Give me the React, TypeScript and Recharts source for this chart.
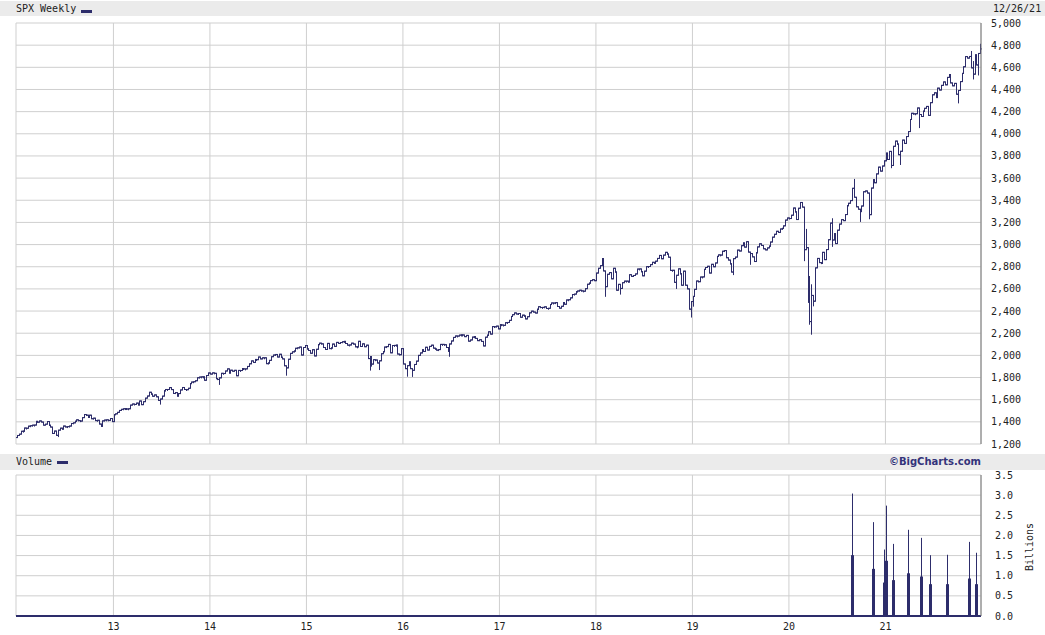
import React from "react";
import { ComposedChart, Bar, XAxis, YAxis, CartesianGrid } from "recharts";

// weekly closes of the S&P 500, 52 weeks per year
const priorClose = 1258;
const close2012 = [
  1277, 1289, 1315, 1316, 1344, 1342, 1361, 1365, 1370, 1371, 1404, 1397, 1408,
  1398, 1370, 1379, 1403, 1369, 1353, 1295, 1317, 1278, 1325, 1343, 1335, 1362,
  1354, 1357, 1362, 1385, 1391, 1405, 1418, 1411, 1407, 1438, 1466, 1460, 1441,
  1460, 1428, 1433, 1411, 1414, 1380, 1360, 1409, 1416, 1418, 1413, 1430, 1402,
];
const close2013 = [
  1466, 1472, 1486, 1503, 1513, 1518, 1520, 1516, 1518, 1551, 1561, 1557, 1569,
  1553, 1588, 1555, 1582, 1614, 1633, 1667, 1650, 1631, 1643, 1626, 1593, 1606,
  1632, 1680, 1692, 1692, 1709, 1691, 1656, 1664, 1633, 1655, 1688, 1710, 1692,
  1690, 1703, 1745, 1759, 1762, 1771, 1798, 1804, 1806, 1805, 1775, 1818, 1841,
];
const close2014 = [
  1831, 1842, 1838, 1790, 1783, 1797, 1838, 1836, 1859, 1878, 1841, 1866, 1857,
  1865, 1816, 1864, 1863, 1881, 1878, 1878, 1900, 1924, 1950, 1936, 1963, 1961,
  1985, 1968, 1978, 1978, 1925, 1931, 1955, 1988, 2003, 2008, 1985, 2010, 1983,
  1968, 1906, 1887, 1965, 2018, 2032, 2039, 2064, 2068, 2075, 2003, 2071, 2089,
];
const close2015 = [
  2058, 2044, 2019, 2051, 1995, 2055, 2097, 2110, 2104, 2071, 2053, 2108, 2061,
  2067, 2102, 2081, 2117, 2108, 2116, 2123, 2126, 2107, 2092, 2094, 2110, 2102,
  2077, 2077, 2127, 2080, 2104, 2078, 2092, 1971, 1989, 1921, 1961, 1958, 1931,
  1951, 2015, 2033, 2075, 2079, 2099, 2023, 2089, 2090, 2092, 2012, 2006, 2061,
];
const close2016 = [
  1922, 1880, 1907, 1940, 1880, 1865, 1918, 1948, 2000, 2022, 2050, 2035, 2073,
  2048, 2081, 2092, 2065, 2057, 2047, 2052, 2099, 2099, 2096, 2071, 2037, 2103,
  2130, 2162, 2175, 2174, 2183, 2184, 2184, 2169, 2180, 2128, 2139, 2165, 2168,
  2153, 2133, 2141, 2126, 2085, 2164, 2182, 2213, 2192, 2260, 2258, 2264, 2239,
];
const close2017 = [
  2277, 2274, 2271, 2295, 2297, 2316, 2351, 2367, 2383, 2373, 2378, 2344, 2363,
  2355, 2329, 2349, 2384, 2399, 2391, 2382, 2416, 2439, 2432, 2433, 2438, 2423,
  2425, 2459, 2473, 2472, 2476, 2441, 2426, 2443, 2477, 2461, 2500, 2502, 2519,
  2549, 2553, 2575, 2581, 2588, 2582, 2579, 2602, 2642, 2652, 2675, 2683, 2674,
];
const close2018 = [
  2743, 2786, 2810, 2873, 2762, 2620, 2732, 2747, 2691, 2786, 2752, 2588, 2641,
  2604, 2656, 2670, 2670, 2663, 2728, 2713, 2721, 2735, 2779, 2780, 2755, 2718,
  2760, 2801, 2802, 2819, 2840, 2833, 2850, 2875, 2902, 2872, 2905, 2930, 2914,
  2886, 2767, 2768, 2659, 2723, 2781, 2736, 2633, 2760, 2633, 2600, 2417, 2486,
];
const close2019 = [
  2532, 2596, 2671, 2665, 2707, 2708, 2776, 2793, 2804, 2743, 2822, 2800, 2834,
  2893, 2907, 2905, 2940, 2946, 2881, 2860, 2826, 2752, 2873, 2887, 2950, 2942,
  2990, 3014, 2977, 3026, 2932, 2919, 2889, 2847, 2926, 2979, 3007, 2992, 2962,
  2952, 2970, 2986, 3023, 3067, 3093, 3120, 3110, 3141, 3146, 3169, 3221, 3240,
];
const close2020 = [
  3235, 3265, 3330, 3295, 3226, 3328, 3380, 3338, 2954, 2972, 2711, 2305, 2541,
  2489, 2790, 2875, 2837, 2831, 2930, 2864, 2955, 3044, 3194, 3041, 3098, 3009,
  3130, 3185, 3225, 3216, 3271, 3351, 3373, 3397, 3508, 3427, 3341, 3319, 3298,
  3348, 3477, 3484, 3465, 3270, 3510, 3585, 3558, 3638, 3699, 3663, 3709, 3756,
];
const close2021 = [
  3825, 3768, 3841, 3714, 3887, 3934, 3907, 3811, 3842, 3943, 3913, 3975, 4020,
  4129, 4185, 4180, 4181, 4233, 4174, 4156, 4204, 4230, 4247, 4166, 4281, 4352,
  4370, 4327, 4412, 4395, 4437, 4468, 4442, 4509, 4535, 4459, 4433, 4455, 4357,
  4391, 4471, 4545, 4605, 4697, 4683, 4698, 4595, 4538, 4712, 4621, 4725, 4766,
];

const years = [2012, 2013, 2014, 2015, 2016, 2017, 2018, 2019, 2020, 2021];
const closesByYear = [close2012, close2013, close2014, close2015, close2016,
  close2017, close2018, close2019, close2020, close2021];

// weeks whose intraweek extreme went past open/close: [year, week, value]
const intraweekLows: [number, number, number][] = [
  [2012, 23, 1267], [2013, 26, 1560], [2014, 6, 1738], [2014, 42, 1821],
  [2015, 35, 1867], [2015, 36, 1903], [2015, 40, 1872],
  [2016, 3, 1812], [2016, 6, 1810], [2016, 26, 1992],
  [2018, 6, 2533], [2018, 14, 2553], [2018, 44, 2604], [2018, 52, 2346],
  [2019, 1, 2444], [2019, 23, 2729], [2019, 32, 2822],
  [2020, 9, 2855], [2020, 11, 2478], [2020, 12, 2281], [2020, 13, 2191],
  [2020, 14, 2447], [2020, 24, 2984], [2020, 39, 3209], [2020, 44, 3233],
  [2021, 4, 3694], [2021, 9, 3723], [2021, 19, 4056], [2021, 40, 4279],
  [2021, 48, 4495], [2021, 51, 4531],
];
const intraweekHighs: [number, number, number][] = [
  [2020, 10, 3137], [2020, 13, 2637], [2020, 24, 3233], [2020, 36, 3588],
  [2021, 47, 4743], [2021, 48, 4652], [2021, 52, 4808],
];

// volume in billions: [year, week, volume, spike]
const volumeWeeks: [number, number, number, number][] = [
  [2020, 35, 1.51, 3.04], [2020, 46, 1.17, 2.33], [2020, 52, 0.83, 1.65],
  [2021, 1, 1.37, 2.74], [2021, 5, 0.89, 1.79], [2021, 13, 1.06, 2.14],
  [2021, 20, 0.98, 1.94], [2021, 25, 0.79, 1.51], [2021, 34, 0.79, 1.52],
  [2021, 46, 0.93, 1.84], [2021, 50, 0.79, 1.57],
];

const priceTicks = [1200, 1400, 1600, 1800, 2000, 2200, 2400, 2600, 2800, 3000,
  3200, 3400, 3600, 3800, 4000, 4200, 4400, 4600, 4800, 5000];
const volumeTicks = [0, 0.5, 1, 1.5, 2, 2.5, 3, 3.5];
const yearLabels = ["13", "14", "15", "16", "17", "18", "19", "20", "21"];

const NAVY = "#2d2d6b";
const GRID = "#cfcfcf";
const FONT = "DejaVu Sans Mono";

const key = (y: number, w: number) => `${y}-${w}`;
const lowMap = new Map(intraweekLows.map(([y, w, v]) => [key(y, w), v]));
const highMap = new Map(intraweekHighs.map(([y, w, v]) => [key(y, w), v]));
const volMap = new Map(volumeWeeks.map(([y, w, v, s]) => [key(y, w), [v, s]]));

const data: any[] = [];
let prev = priorClose;
years.forEach((yr, yi) => {
  closesByYear[yi].forEach((close, wi) => {
    const k = key(yr, wi + 1);
    const open = prev;
    const hi = Math.max(open, close, highMap.get(k) ?? 0);
    const lo = Math.min(open, close, lowMap.get(k) ?? Infinity);
    const vol = volMap.get(k);
    data.push({
      week: k,
      open,
      close,
      hi,
      lo,
      range: [lo, hi],
      vol: vol ? vol[0] : undefined,
      volSpike: vol ? vol[1] : undefined,
    });
    prev = close;
  });
});

const yearTicks = yearLabels.map((_, i) => key(years[i + 1], 1));
const yearLabelOf = (k: string) => String(k).slice(2, 4);

const OhlcBar = (props: any) => {
  const { x, y, width, height, payload } = props;
  if (!payload || x == null) return null;
  const top = Math.min(y, y + height);
  const h = Math.abs(height);
  const cx = Math.round(x + width / 2) + 0.5;
  const span = payload.hi - payload.lo;
  const at = (v: number) => (span > 0 ? top + ((payload.hi - v) / span) * h : top);
  return (
    <g stroke={NAVY} strokeWidth={1}>
      <line x1={cx} x2={cx} y1={top - 0.5} y2={top + Math.max(h, 1) + 0.5} />
      <line x1={cx - 1.5} x2={cx} y1={at(payload.open)} y2={at(payload.open)} />
      <line x1={cx} x2={cx + 1.5} y1={at(payload.close)} y2={at(payload.close)} />
    </g>
  );
};

const VolumeBar = (props: any) => {
  const { x, y, width, height, payload } = props;
  if (!payload || !payload.volSpike) return null;
  const base = y + height;
  const cx = Math.round(x + width / 2);
  const thickTop = base - height * (payload.vol / payload.volSpike);
  return (
    <g fill={NAVY}>
      <rect x={cx} y={y} width={1} height={height} />
      <rect x={cx - 1} y={thickTop} width={3} height={base - thickTop} />
    </g>
  );
};

const NoTick = () => <g />;

const tickStyle = { fontSize: 10, fill: "#222", fontFamily: FONT };

const headerBar: React.CSSProperties = {
  position: "absolute",
  left: 0,
  width: 1045,
  height: 15,
  background: "#ebebeb",
  fontFamily: FONT,
  fontSize: 10,
  lineHeight: "15px",
  color: "#222",
};

export default function App() {
  return (
    <div style={{ position: "absolute", left: 0, top: 0, width: 1045, height: 635, background: "#fff" }}>
      <div style={{ ...headerBar, top: 1 }}>
        <span style={{ position: "absolute", left: 16 }}>SPX Weekly</span>
        <span style={{ position: "absolute", left: 81, top: 9, width: 11, height: 3, background: NAVY }} />
        <span style={{ position: "absolute", left: 993 }}>12/26/21</span>
      </div>

      <div style={{ position: "absolute", left: 0, top: 0 }}>
        <ComposedChart
          width={1045}
          height={460}
          data={data}
          margin={{ top: 23, right: 0, bottom: 16, left: 16 }}
          barCategoryGap={0}
        >
          <CartesianGrid stroke={GRID} />
          <XAxis
            dataKey="week"
            ticks={yearTicks}
            interval={0}
            height={0}
            tick={NoTick}
            tickLine={false}
            axisLine={{ stroke: "#666", strokeWidth: 2 }}
          />
          <YAxis
            yAxisId="frame"
            orientation="left"
            width={0}
            domain={[0, 1]}
            tick={false}
            tickLine={false}
            axisLine={{ stroke: GRID }}
          />
          <YAxis
            orientation="right"
            width={64}
            domain={[1200, 5000]}
            ticks={priceTicks}
            interval={0}
            tickSize={0}
            tickMargin={10}
            tick={{ ...tickStyle, textAnchor: "start" }}
            tickFormatter={(v: number) => v.toLocaleString("en-US")}
            axisLine={{ stroke: "#777" }}
          />
          <Bar dataKey="range" shape={<OhlcBar />} isAnimationActive={false} />
        </ComposedChart>
      </div>

      <div style={{ ...headerBar, top: 454, height: 16, lineHeight: "16px" }}>
        <span style={{ position: "absolute", left: 16 }}>Volume</span>
        <span style={{ position: "absolute", left: 57, top: 7, width: 11, height: 3, background: NAVY }} />
        <span
          style={{
            position: "absolute",
            right: 1045 - 981,
            fontFamily: "DejaVu Sans",
            fontWeight: "bold",
            color: "#33337a",
          }}
        >
          ©BigCharts.com
        </span>
      </div>

      <div style={{ position: "absolute", left: 0, top: 470 }}>
        <ComposedChart
          width={1045}
          height={165}
          data={data}
          margin={{ top: 5, right: 0, bottom: 0, left: 16 }}
          barCategoryGap={0}
        >
          <CartesianGrid stroke={GRID} />
          <XAxis
            dataKey="week"
            ticks={yearTicks}
            interval={0}
            height={19}
            tickSize={0}
            tickMargin={7}
            tick={tickStyle}
            tickFormatter={yearLabelOf}
            axisLine={{ stroke: NAVY, strokeWidth: 2 }}
          />
          <YAxis
            yAxisId="frame"
            orientation="left"
            width={0}
            domain={[0, 1]}
            tick={false}
            tickLine={false}
            axisLine={{ stroke: GRID }}
          />
          <YAxis
            orientation="right"
            width={64}
            domain={[0, 3.5]}
            ticks={volumeTicks}
            interval={0}
            tickSize={0}
            tickMargin={14}
            tick={{ ...tickStyle, textAnchor: "start" }}
            tickFormatter={(v: number) => v.toFixed(1)}
            axisLine={{ stroke: "#777" }}
          />
          <Bar dataKey="volSpike" shape={<VolumeBar />} isAnimationActive={false} />
        </ComposedChart>
      </div>

      <svg style={{ position: "absolute", left: 1020, top: 515 }} width={20} height={64}>
        <text
          transform="translate(13,32) rotate(-90)"
          textAnchor="middle"
          fontFamily={FONT}
          fontSize={10}
          fill="#222"
        >
          Billions
        </text>
      </svg>
    </div>
  );
}
